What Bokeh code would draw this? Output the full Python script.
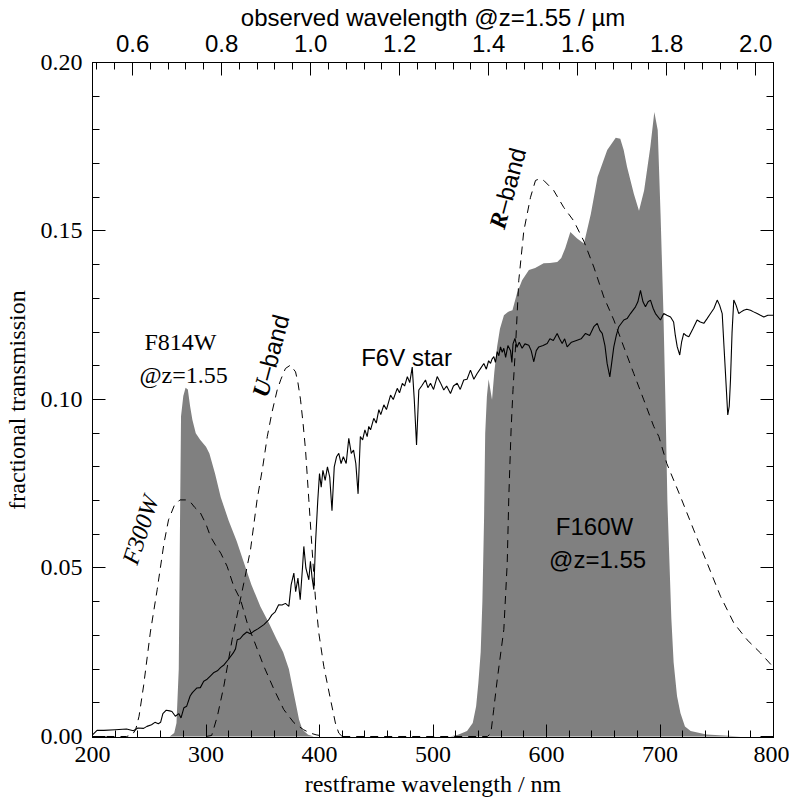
import numpy as np
from bokeh.plotting import figure
from bokeh.models import Range1d, LinearAxis, FixedTicker, NumeralTickFormatter, Label
from bokeh.embed import file_html
from bokeh.resources import INLINE

Z = 1.55

# F814W filter transmission shifted to restframe (filled)
f814_nm = [268, 272, 274, 276, 277, 278, 280, 282, 284, 286, 288, 291, 295, 300, 303, 308, 313, 320,
           327, 333, 340, 348, 355, 362, 368, 373, 376, 379, 382, 385, 390, 395]
f814_tr = [0.0, 0.001, 0.004, 0.02, 0.06, 0.095, 0.101, 0.1035, 0.103, 0.098, 0.094, 0.090, 0.088,
           0.086, 0.084, 0.078, 0.071, 0.064, 0.058, 0.052, 0.045, 0.0385, 0.034, 0.029, 0.025,
           0.020, 0.015, 0.010, 0.005, 0.002, 0.0005, 0.0]

# F160W filter transmission shifted to restframe (filled)
f160_nm = [515, 522, 530, 535, 538, 540, 542, 543.5, 545, 546, 547.5, 549, 550.5, 552, 554, 556.5,
           559, 562.5, 566, 570, 574, 578.5, 584.5, 590, 597.5, 603, 609.5, 613, 616.5, 621, 627,
           633, 639, 645, 653.5, 661, 665, 668, 671, 677, 681.5, 686, 691.5, 695, 698, 700.5, 703,
           705, 706.5, 708, 710, 712, 715, 718, 722, 727, 735, 741, 760, 771]
f160_tr = [0.0, 0.0005, 0.0016, 0.004, 0.009, 0.016, 0.025, 0.04, 0.065, 0.09, 0.101, 0.106, 0.103,
           0.0999, 0.108, 0.1157, 0.121, 0.125, 0.126, 0.1265, 0.1315, 0.1354, 0.1384, 0.139,
           0.1404, 0.1405, 0.1408, 0.142, 0.1449, 0.1497, 0.1478, 0.1463, 0.155, 0.166, 0.174,
           0.1777, 0.1774, 0.174, 0.169, 0.161, 0.156, 0.162, 0.175, 0.1853, 0.18, 0.155, 0.126,
           0.096, 0.07, 0.055, 0.035, 0.022, 0.012, 0.007, 0.003, 0.0016, 0.001, 0.0006, 0.0002, 0.0]

# F6V star spectrum (scaled)
star_nm = [200, 204, 210, 220, 230, 236, 240, 245, 248, 252, 255, 258, 260, 262, 265, 268, 270, 273,
           276, 278, 280.5, 283, 286, 288, 292, 295, 298, 301, 304, 307, 310, 313, 316, 320, 324,
           326, 327.5, 330, 333, 336, 339, 342, 346, 351, 355, 358, 361, 364, 367, 370, 373, 375,
           377.4, 379, 381, 383, 385, 386.2, 388, 390.6, 392, 393.5, 395, 396.5, 398.5, 400, 401.5,
           403, 405, 407, 409, 411, 413, 415, 417, 419, 421, 423.5, 425.8, 428, 430, 432, 434, 436,
           438, 440, 442, 443.4, 445, 447.8, 450, 452.3, 454, 456.7, 459, 462.6, 465, 468.5, 470.5,
           473, 475, 477.4, 479.5, 481.7, 483.5, 485.5, 487.5, 490, 493.4, 495.5, 497.8, 500.5,
           503.7, 506.5, 509.5, 512, 515.4, 518, 521.3, 524, 527.1, 530, 533, 536, 538.9, 541.5,
           544.8, 547, 549, 550.7, 552, 553.6, 555, 556.6, 558, 559.5, 561, 562.4, 564, 566, 568.3,
           569.5, 570.5, 572.2, 574, 576, 578.5, 581, 584.4, 586.5, 588.8, 591, 593.2, 597, 600.6,
           603, 606, 609.4, 611.5, 613.8, 616, 618.2, 622, 627, 630.5, 634.4, 638, 641.7, 644.7,
           647, 649.1, 651.5, 653.4, 655.8, 657.5, 659.3, 661.5, 663.7, 668.1, 671, 674, 678.4,
           680.5, 682.8, 685, 687.2, 689.5, 691.6, 694, 696, 700.4, 703.3, 706, 709.3, 712, 713.5,
           715.2, 717.4, 719, 720.9, 723, 725.4, 729, 732.7, 735.5, 738.6, 741.5, 744.5, 747.5,
           750.4, 752.5, 754.8, 756.5, 757.7, 759.7, 761, 762.1, 763.5, 765, 767, 769.4, 771.5,
           773.8, 776.5, 779.7, 782.5, 785.6, 788.5, 791.5, 795, 800]
star_fl = [0.0005, 0.0018, 0.0018, 0.002, 0.0022, 0.0017, 0.0025, 0.0024, 0.003, 0.0035, 0.0042,
           0.0038, 0.0042, 0.0068, 0.0078, 0.0076, 0.0074, 0.006, 0.0068, 0.0055, 0.0085, 0.009,
           0.012, 0.013, 0.0144, 0.0145, 0.0164, 0.017, 0.018, 0.019, 0.0195, 0.0205, 0.0213,
           0.023, 0.0248, 0.026, 0.0287, 0.029, 0.0302, 0.031, 0.0305, 0.0312, 0.032, 0.0332,
           0.0345, 0.0361, 0.037, 0.0391, 0.039, 0.0395, 0.0386, 0.045, 0.0485, 0.043, 0.047,
           0.0406, 0.05, 0.0564, 0.050, 0.0465, 0.052, 0.047, 0.0436, 0.0575, 0.0702, 0.078, 0.074,
           0.079, 0.076, 0.08, 0.077, 0.067, 0.08, 0.083, 0.084, 0.081, 0.083, 0.081, 0.0885, 0.084,
           0.085, 0.081, 0.072, 0.089, 0.088, 0.091, 0.089, 0.092, 0.091, 0.0944, 0.093, 0.097,
           0.0955, 0.0984, 0.097, 0.1013, 0.1, 0.1033, 0.102, 0.1048, 0.104, 0.1068, 0.105, 0.1096,
           0.1, 0.0865, 0.1028, 0.104, 0.1058, 0.1035, 0.1048, 0.103, 0.1068, 0.105, 0.1028, 0.104,
           0.1018, 0.104, 0.1048, 0.103, 0.1058, 0.106, 0.1087, 0.106, 0.1077, 0.109, 0.1107, 0.109,
           0.1115, 0.1107, 0.112, 0.1127, 0.111, 0.1142, 0.113, 0.1156, 0.114, 0.1152, 0.1125,
           0.116, 0.1145, 0.111, 0.1165, 0.1181, 0.1155, 0.117, 0.1152, 0.1165, 0.1161, 0.1145,
           0.1112, 0.1145, 0.1156, 0.116, 0.1166, 0.118, 0.1175, 0.1196, 0.118, 0.1166, 0.118,
           0.1156, 0.117, 0.1176, 0.118, 0.1196, 0.119, 0.1216, 0.1226, 0.1205, 0.1196, 0.116,
           0.1107, 0.1067, 0.111, 0.1156, 0.119, 0.1216, 0.1236, 0.124, 0.1255, 0.1275, 0.129,
           0.1324, 0.129, 0.1275, 0.129, 0.1295, 0.127, 0.1255, 0.1236, 0.1255, 0.125, 0.1245,
           0.123, 0.119, 0.1156, 0.1132, 0.117, 0.1196, 0.119, 0.1186, 0.121, 0.1236, 0.123,
           0.1226, 0.124, 0.1255, 0.127, 0.1295, 0.128, 0.1255, 0.115, 0.1077, 0.0954, 0.098,
           0.1058, 0.12, 0.1295, 0.128, 0.1255, 0.126, 0.1265, 0.1268, 0.1265, 0.126, 0.1255,
           0.125, 0.1245, 0.125, 0.125]

# F300W filter (dashed)
f300_nm = [200, 230, 235, 238, 241, 245, 251, 257, 263, 267, 272, 277, 282, 286, 290, 295, 300, 304,
           308, 313, 318.6, 324.5, 330.4, 336.3, 342, 351, 360, 368.5, 377.4, 386, 392, 397, 405]
f300_tr = [0.0, 0.0, 0.0005, 0.002, 0.006, 0.015, 0.031, 0.0436, 0.0574, 0.0643, 0.0685, 0.0702,
           0.0702, 0.0697, 0.068, 0.0664, 0.063, 0.0593, 0.057, 0.0544, 0.0505, 0.0445, 0.0406,
           0.0337, 0.0287, 0.0208, 0.0139, 0.008, 0.0041, 0.002, 0.001, 0.0005, 0.0]

# U-band filter (dashed)
uband_nm = [300, 305, 310, 315.7, 323, 329, 333.3, 339.2, 345, 350, 354, 358, 362.7, 366, 370, 374.4,
            378.9, 381, 383.3, 385.5, 387.7, 390.6, 393.5, 396.5, 399.4, 403.8, 409.7, 414, 417, 420]
uband_tr = [0.0, 0.0003, 0.006, 0.0149, 0.0287, 0.0386, 0.0455, 0.0554, 0.0702, 0.08, 0.089, 0.096,
            0.1028, 0.106, 0.1092, 0.1102, 0.1082, 0.105, 0.0999, 0.093, 0.085, 0.0702, 0.0554,
            0.0406, 0.0307, 0.0208, 0.011, 0.004, 0.001, 0.0]

# R-band filter (dashed)
rband_nm = [420, 548, 551, 553.5, 556.6, 562.4, 565.4, 566.8, 568.8, 570.5, 572.7, 575.6, 580, 585.9,
            590.3, 594, 597.6, 606.4, 615.2, 624, 632.9, 641.7, 650.5, 659.3, 668.1, 676.9, 685.7,
            694.5, 699, 706, 718, 729.7, 741.5, 753.3, 765, 776.7, 788.5, 800]
rband_tr = [0.0, 0.0, 0.001, 0.008, 0.0169, 0.0317, 0.0515, 0.0712, 0.091, 0.103, 0.1156, 0.1354,
            0.150, 0.160, 0.165, 0.1655, 0.165, 0.162, 0.157, 0.153, 0.147, 0.1393, 0.1304, 0.1236,
            0.1156, 0.1077, 0.0999, 0.092, 0.089, 0.081, 0.0712, 0.0613, 0.0515, 0.0416, 0.0337,
            0.0287, 0.0248, 0.0205]

x_ticks = [200, 300, 400, 500, 600, 700, 800]
x_minor = list(range(200, 801, 20))
y_ticks = [0.0, 0.05, 0.10, 0.15, 0.20]
y_minor = [round(0.01 * i, 2) for i in range(0, 21)]
top_ticks = [0.6, 0.8, 1.0, 1.2, 1.4, 1.6, 1.8, 2.0]
top_minor = [round(0.52 + 0.04 * i, 2) for i in range(0, 39)]

SERIF = "Liberation Serif"
SANS = "Liberation Sans"
FS = "24px"

p = figure(frame_width=681, frame_height=675, output_backend="svg", toolbar_location=None,
           x_range=Range1d(200, 800), y_range=Range1d(-0.0003, 0.2),
           min_border_left=88, min_border_top=61, min_border_right=16, min_border_bottom=0,
           x_axis_location=None, y_axis_location=None)
p.xgrid.grid_line_color = None
p.ygrid.grid_line_color = None
p.outline_line_color = "black"
p.outline_line_width = 1
p.background_fill_color = "white"
p.border_fill_color = "white"

p.extra_x_ranges = {"obs": Range1d(200 * (1 + Z) / 1000.0, 800 * (1 + Z) / 1000.0)}


def style_axis(ax, font):
    ax.major_tick_in = 13
    ax.major_tick_out = 0
    ax.minor_tick_in = 7
    ax.minor_tick_out = 0
    ax.axis_line_color = "black"
    ax.major_tick_line_color = "black"
    ax.minor_tick_line_color = "black"
    ax.major_label_text_font = font
    ax.major_label_text_font_size = FS
    ax.major_label_text_color = "black"
    ax.axis_label_text_font = font
    ax.axis_label_text_font_size = FS
    ax.axis_label_text_font_style = "normal"
    ax.axis_label_text_color = "black"


xb = LinearAxis(ticker=FixedTicker(ticks=x_ticks, minor_ticks=x_minor),
                axis_label="restframe wavelength / nm")
style_axis(xb, SERIF)
xb.major_label_standoff = 9
xb.axis_label_standoff = 6
p.add_layout(xb, "below")

yl = LinearAxis(ticker=FixedTicker(ticks=y_ticks, minor_ticks=y_minor),
                formatter=NumeralTickFormatter(format="0.00"),
                axis_label="fractional transmission")
style_axis(yl, SERIF)
yl.major_label_standoff = 10
yl.axis_label_standoff = 8
p.add_layout(yl, "left")

xt = LinearAxis(x_range_name="obs", ticker=FixedTicker(ticks=top_ticks, minor_ticks=top_minor),
                formatter=NumeralTickFormatter(format="0.0"),
                axis_label="observed wavelength @z=1.55 / µm")
style_axis(xt, SANS)
xt.major_label_standoff = 11
xt.axis_label_standoff = 1
p.add_layout(xt, "above")

yr = LinearAxis(ticker=FixedTicker(ticks=y_ticks, minor_ticks=y_minor))
style_axis(yr, SERIF)
yr.major_label_overrides = {t: "" for t in y_ticks}
yr.major_label_standoff = 0
p.add_layout(yr, "right")

GRAY = "#808080"
p.varea(x=f814_nm, y1=[0.0] * len(f814_nm), y2=f814_tr, fill_color=GRAY)
p.varea(x=f160_nm, y1=[0.0] * len(f160_nm), y2=f160_tr, fill_color=GRAY)

p.line(star_nm, star_fl, line_color="black", line_width=1.1)

for xs, ys in ((f300_nm, f300_tr), (uband_nm, uband_tr), (rband_nm, rband_tr)):
    p.line(xs, ys, line_color="black", line_width=1, line_dash="8 6")


def lab(x, y, text, font, style="normal", angle=0, align="center"):
    p.add_layout(Label(x=x, y=y, text=text, text_font=font, text_font_size=FS,
                       text_font_style=style, text_color="black", angle=angle,
                       angle_units="deg", text_align=align, text_baseline="middle"))


lab(277.5, 0.1170, "F814W", SERIF)
lab(280.2, 0.1073, "@z=1.55", SERIF)
lab(476.7, 0.1126, "F6V star", SANS)
lab(642.3, 0.0622, "F160W", SANS)
lab(645.0, 0.0524, "@z=1.55", SANS)
lab(242.3, 0.0613, "F300W", SERIF, style="italic", angle=72)
lab(349.3, 0.1034, "U", SERIF, style="bold italic", angle=75)
lab(351.3, 0.1059, "\u2013band", SANS, angle=75, align="left")
lab(558.1, 0.1531, "R", SERIF, style="bold italic", angle=75)
lab(559.8, 0.1554, "\u2013band", SANS, angle=75, align="left")

open("out.html", "w").write(file_html(p, INLINE))
